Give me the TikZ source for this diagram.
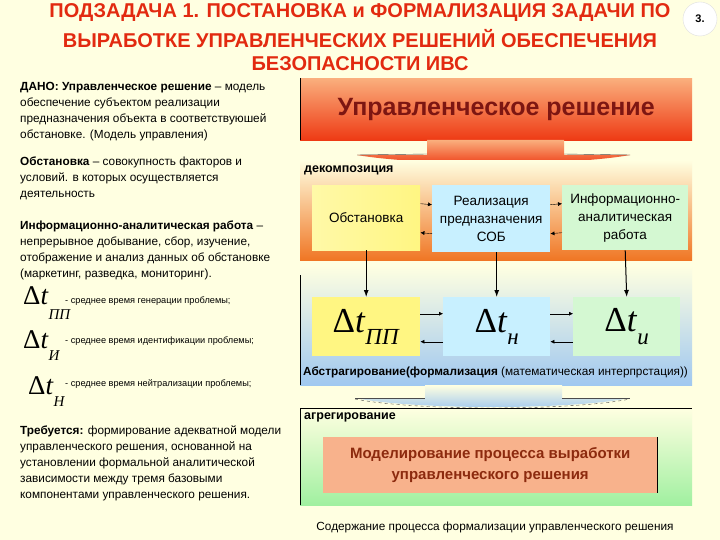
\documentclass[tikz,border=0pt]{standalone}
\usepackage{fontspec}
\setmainfont{Liberation Sans}
\newfontfamily\timesfam{Liberation Serif}
\usetikzlibrary{arrows.meta}

\definecolor{fon}{RGB}{255,255,225}
\definecolor{titelrot}{RGB}{226,42,16}
\definecolor{dunkelrot}{RGB}{125,22,18}
\definecolor{braunrot}{RGB}{140,42,14}
\definecolor{orhell}{RGB}{250,175,125}
\definecolor{orrot}{RGB}{238,58,20}
\definecolor{decunten}{RGB}{240,118,36}
\definecolor{gelbbox}{RGB}{255,246,130}
\definecolor{cyanbox}{RGB}{200,240,255}
\definecolor{gruenbox}{RGB}{212,248,210}
\definecolor{blauunten}{RGB}{160,200,240}
\definecolor{gruenunten}{RGB}{160,240,160}
\definecolor{lachs}{RGB}{248,178,140}

% Delta t mit Index
\newcommand{\dtime}[4]{{\fontsize{#1}{#1}\timesfam\selectfont Δ\textit{t}\raisebox{#4}{\fontsize{#2}{#2}\selectfont\textit{#3}}}}

\begin{document}
\begin{tikzpicture}[x=1pt, y=-1pt,
	panel/.style={anchor=north west, inner sep=0, minimum width=392pt},
	box/.style={anchor=north west, inner sep=1pt, align=center, font=\fontsize{13.5}{18}\selectfont},
	lab/.style={anchor=north west, inner sep=0, font=\fontsize{12.5}{14}\selectfont\bfseries},
	txt/.style={anchor=north west, inner sep=0, align=left, font=\fontsize{11.8}{16}\selectfont},
	klein/.style={anchor=west, inner sep=0, font=\fontsize{9.2}{11}\selectfont},
	pfeil/.style={-{Latex[length=7pt, width=5pt]}, line width=1pt},
	spitze/.style={-{Latex[length=4pt, width=4pt]}, thin}]
\useasboundingbox (0,0) rectangle (720,540);
\fill[fon] (0,0) rectangle (720,540);

% Titel
\begin{scope}[font=\fontsize{20}{22}\selectfont\bfseries, text=titelrot]
	\node (t1) at (360,13) {ПОДЗАДАЧА 1. ПОСТАНОВКА и ФОРМАЛИЗАЦИЯ ЗАДАЧИ ПО};
	\node (t2) at (360,39) {ВЫРАБОТКЕ УПРАВЛЕНЧЕСКИХ РЕШЕНИЙ  ОБЕСПЕЧЕНИЯ};
	\node (t3) at (360,64) {БЕЗОПАСНОСТИ ИВС};
\end{scope}
\node[circle, fill=white, draw=gray!25, minimum size=34pt, inner sep=0, font=\fontsize{11}{11}\selectfont\bfseries] (num) at (700,19) {3.};

% Linke Spalte
\node[txt] (dano) at (20,82) {\textbf{ДАНО: Управленческое решение} – модель\\
	обеспечение субъектом реализации\\
	предназначения объекта в соответствуюшей\\
	обстановке.  (Модель управления)};
\node[txt] (obsttxt) at (20,157) {\textbf{Обстановка} – совокупность факторов и\\
	условий. в которых осуществляется\\
	деятельность};
\node[txt] (iatxt) at (20,221) {\textbf{Информационно-аналитическая работа} –\\
	непрерывное добывание, сбор, изучение,\\
	отображение и анализ данных об обстановке\\
	(маркетинг, разведка, мониторинг).};
\node[anchor=west, inner sep=0] (d1) at (23,303) {\dtime{27}{15}{ПП}{-0.55em}};
\node[klein] (d1t) at (65,301) {- среднее время генерации проблемы;};
\node[anchor=west, inner sep=0] (d2) at (23,346) {\dtime{27}{15}{И}{-0.45em}};
\node[klein] (d2t) at (65,341) {- среднее время идентификации проблемы;};
\node[anchor=west, inner sep=0] (d3) at (28,392) {\dtime{27}{15}{Н}{-0.45em}};
\node[klein] (d3t) at (65,384) {- среднее время нейтрализации проблемы;};
\node[txt] (treb) at (20,426) {\textbf{Требуется:} формирование адекватной модели\\
	управленческого решения, основанной на\\
	установлении формальной аналитической\\
	зависимости между тремя базовыми\\
	компонентами управленческого решения.};

% Управленческое решение
\node[panel, minimum height=62pt, top color=orhell, bottom color=orrot, text=dunkelrot,
	font=\fontsize{25}{27}\selectfont\bfseries] (upr) at (300,78) {Управленческое решение};
\draw (upr.north west) -- (upr.south west);

% Übergang oben
\path[top color=orhell, bottom color=orrot] (427,140) -- (564,140) -- (564,155) -- (630,155)
	.. controls (570,166) and (420,166) .. (357,155) -- (427,155) -- cycle;
\draw[black!70] (357,155) -- (427,154) (564,154) -- (630,155);

% Dekomposition
\node[panel, minimum height=100pt, top color=fon, bottom color=decunten] (dec) at (300,160) {};
\node[lab] (declab) at (304,166) {декомпозиция};
\node[box, minimum width=108pt, minimum height=65pt, left color=gelbbox!70, right color=gelbbox] (obst) at (312,185) {Обстановка};
\node[box, minimum width=118pt, minimum height=67pt, fill=cyanbox] (real) at (432,185) {Реализация\\предназначения\\СОБ};
\node[box, minimum width=126pt, minimum height=65pt, fill=gruenbox] (info) at (562,185) {Информационно-\\аналитическая\\работа};
\draw[spitze] ([yshift=14pt]obst.east) -- ([yshift=14pt]real.west);
\draw[spitze] ([yshift=14pt]real.east) -- ([yshift=14pt]info.west);
\draw[spitze] ([yshift=-15pt]real.west) -- ([yshift=-15pt]obst.east);
\draw[spitze] ([yshift=-15pt]info.west) -- ([yshift=-15pt]real.east);

% Abstraktion
\node[panel, minimum height=120pt, top color=fon, bottom color=blauunten] (abs) at (300,265) {};
\draw ([yshift=-10pt]abs.north west) -- (abs.south west);
\node[box, minimum width=108pt, minimum height=59pt, fill=gelbbox] (dpp) at (312,297) {\dtime{35}{23}{ПП}{-0.35em}};
\node[box, minimum width=107pt, minimum height=59pt, fill=cyanbox] (dtn) at (443,297) {\dtime{35}{23}{н}{-0.35em}};
\node[box, minimum width=107pt, minimum height=59pt, fill=gruenbox] (dtu) at (573,297) {\dtime{35}{23}{u}{-0.35em}};
\draw[spitze] ([yshift=13pt]dpp.east) -- ([yshift=13pt]dtn.west);
\draw[spitze] ([yshift=13pt]dtn.east) -- ([yshift=13pt]dtu.west);
\draw[spitze] ([yshift=-15pt]dtn.west) -- ([yshift=-15pt]dpp.east);
\draw[spitze] ([yshift=-15pt]dtu.west) -- ([yshift=-15pt]dtn.east);
\node[anchor=west, inner sep=0, font=\fontsize{11.8}{13}\selectfont] (abslab) at (303,372)
	{\textbf{Абстрагирование(формализация} (математическая интерпрстация))};

% Pfeile nach unten
\draw[pfeil] (obst.south) -- (dpp.north);
\draw[pfeil] (real.south -| dtn.north) -- (dtn.north);
\draw[pfeil] (info.south) -- (dtu.north);

% Übergang unten
\path[top color=fon, bottom color=blauunten] (425,385) -- (562,385) -- (562,398) -- (630,398)
	.. controls (570,410) and (415,410) .. (355,398) -- (425,398) -- cycle;
\draw[black!70] (355,398) -- (425,398) (562,398) -- (630,398);
\draw[black!70, dashed] (355,399) .. controls (415,411) and (570,411) .. (630,399);

% Aggregation
\node[panel, minimum height=97pt, top color=fon, bottom color=gruenunten] (agg) at (300,408) {};
\draw (agg.south west) -- (agg.north west) -- (agg.north east);
\node[lab] (agglab) at (304,413) {агрегирование};
\node[box, minimum width=334pt, minimum height=56pt, fill=lachs, text=braunrot,
	font=\fontsize{15}{21}\selectfont\bfseries] (model) at (323,437) {Моделирование процесса выработки\\управленческого решения};
\draw (model.north east) -- (model.south east);

\node[font=\fontsize{11.8}{13}\selectfont] (cap) at (495,527) {Содержание процесса формализации управленческого решения};
\end{tikzpicture}
\end{document}
